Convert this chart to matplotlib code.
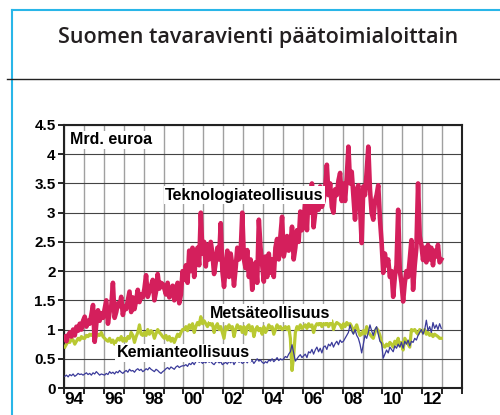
import numpy as np
import matplotlib
matplotlib.use("Agg")
import matplotlib.pyplot as plt
from matplotlib.lines import Line2D

# Kuukausiarvot, mrd. euroa (tammikuu 1994 - joulukuu 2012)
teknologia = [
    0.88, 0.80, 0.90, 0.95, 0.88, 1.00, 0.90, 1.05, 0.98, 1.10, 1.00, 1.15,  # 94
    1.22, 1.05, 1.15, 1.10, 1.25, 1.42, 0.79, 1.10, 1.33, 1.15, 1.28, 1.20,  # 95
    1.35, 1.50, 1.10, 1.30, 1.40, 1.80, 1.20, 1.30, 1.45, 1.40, 1.56, 1.25,  # 96
    1.40, 1.35, 1.50, 1.65, 1.30, 1.55, 1.35, 1.50, 1.68, 1.47, 1.60, 1.55,  # 97
    1.70, 1.93, 1.56, 1.65, 1.75, 1.85, 1.50, 1.65, 1.95, 1.70, 1.80, 1.78,  # 98
    1.70, 1.60, 1.80, 1.55, 1.65, 1.75, 1.50, 1.70, 1.80, 1.45, 1.60, 2.00,  # 99
    1.85, 2.10, 1.80, 2.35, 2.00, 2.40, 1.90, 2.25, 2.40, 2.10, 3.00, 2.30,  # 00
    2.50, 2.08, 2.45, 2.20, 2.50, 2.30, 1.95, 2.15, 2.40, 2.20, 2.82, 2.00,  # 01
    1.73, 2.10, 2.35, 1.90, 2.30, 2.10, 1.75, 2.05, 2.40, 2.20, 2.30, 3.00,  # 02
    2.20, 2.05, 2.36, 1.90, 2.20, 1.68, 1.95, 2.15, 1.80, 2.88, 2.40, 2.10,  # 03
    1.82, 2.25, 1.90, 2.30, 1.97, 2.20, 1.90, 2.40, 2.55, 2.20, 2.60, 2.93,  # 04
    2.25, 2.40, 2.60, 2.35, 2.45, 2.76, 2.20, 2.40, 2.70, 2.50, 3.02, 2.70,  # 05
    2.85, 3.20, 2.70, 3.35, 3.00, 3.50, 2.75, 3.00, 3.30, 3.05, 3.45, 3.10,  # 06
    3.20, 3.40, 3.82, 3.30, 3.50, 3.10, 3.00, 3.40, 3.30, 3.55, 3.68, 3.20,  # 07
    3.50, 3.20, 3.60, 4.13, 3.50, 3.70, 3.30, 2.88, 3.40, 3.47, 3.10, 2.48,  # 08
    3.45, 3.30, 3.70, 4.13, 3.40, 3.00, 2.88, 3.20, 3.30, 3.47, 2.90, 2.50,  # 09
    1.97, 2.30, 2.10, 2.20, 1.90, 2.00, 1.56, 1.90, 2.10, 3.05, 2.00, 1.80,  # 10
    1.48, 1.80, 2.00, 1.90, 2.20, 2.53, 1.68, 2.10, 2.40, 3.50, 2.60, 2.45,  # 11
    2.19, 2.40, 2.15, 2.45, 2.20, 2.40, 2.10, 2.35, 2.25, 2.45, 2.15, 2.20,  # 12
]

metsa = [
    0.70, 0.75, 0.80, 0.78, 0.85, 0.82, 0.75, 0.80, 0.85, 0.82, 0.88, 0.85,
    0.85, 0.90, 0.88, 0.92, 0.90, 0.93, 0.82, 0.88, 0.92, 0.90, 0.95, 0.88,
    0.85, 0.82, 0.80, 0.85, 0.78, 0.82, 0.75, 0.80, 0.85, 0.82, 0.88, 0.80,
    0.85, 0.80, 0.88, 0.85, 0.95, 0.90, 0.78, 0.88, 0.95, 1.08, 0.92, 0.90,
    0.95, 0.90, 1.00, 0.92, 0.98, 0.95, 0.85, 0.93, 1.00, 0.95, 0.92, 0.88,
    0.85, 0.90, 0.82, 0.88, 0.80, 0.85, 0.78, 0.85, 0.92, 0.88, 0.95, 1.00,
    1.00, 1.05, 0.98, 1.08, 1.02, 1.10, 0.95, 1.05, 1.12, 1.08, 1.22, 1.10,
    1.15, 1.10, 1.05, 1.12, 1.08, 1.10, 0.95, 1.05, 1.10, 1.00, 1.05, 0.95,
    0.85, 1.05, 1.00, 1.08, 1.02, 1.05, 0.88, 1.00, 1.08, 1.02, 1.05, 0.95,
    1.05, 0.92, 1.05, 1.08, 0.98, 1.05, 0.88, 1.00, 1.05, 0.98, 1.02, 0.92,
    1.05, 0.95, 1.00, 1.08, 1.02, 1.05, 0.92, 1.00, 1.08, 1.02, 1.05, 1.00,
    1.02, 1.05, 1.00, 1.05, 0.85, 0.30, 0.55, 0.95, 1.05, 1.00, 1.08, 1.02,
    1.05, 1.08, 1.02, 1.10, 1.05, 1.08, 0.95, 1.05, 1.10, 1.08, 1.12, 1.05,
    1.10, 1.08, 1.12, 1.05, 1.10, 1.15, 1.00, 1.08, 1.12, 1.10, 1.08, 1.02,
    1.10, 1.05, 1.12, 1.08, 1.10, 1.05, 0.95, 1.02, 1.08, 0.98, 0.90, 0.92,
    0.98, 0.92, 1.05, 0.95, 0.92, 0.88, 0.85, 0.95, 1.02, 0.98, 0.90, 0.78,
    0.72, 0.70, 0.75, 0.72, 0.78, 0.75, 0.70, 0.80, 0.75, 0.85, 0.72, 0.78,
    0.65, 0.85, 0.80, 0.75, 0.70, 1.00, 0.98, 1.00, 0.95, 0.92, 1.00, 0.98,
    0.95, 1.00, 0.92, 0.95, 0.90, 0.93, 0.88, 0.92, 0.90, 0.88, 0.85, 0.85,
]

kemia = [
    0.20, 0.22, 0.19, 0.23, 0.21, 0.24, 0.20, 0.22, 0.25, 0.23, 0.24, 0.22,
    0.24, 0.26, 0.23, 0.25, 0.22, 0.26, 0.24, 0.28, 0.25, 0.22, 0.24, 0.23,
    0.22, 0.25, 0.23, 0.28, 0.25, 0.27, 0.24, 0.28, 0.26, 0.30, 0.27, 0.25,
    0.28, 0.30, 0.27, 0.32, 0.29, 0.30, 0.27, 0.31, 0.33, 0.30, 0.32, 0.28,
    0.30, 0.33, 0.31, 0.35, 0.32, 0.30, 0.28, 0.32, 0.30, 0.27, 0.25, 0.28,
    0.30, 0.33, 0.35, 0.32, 0.36, 0.34, 0.32, 0.36, 0.38, 0.35, 0.37, 0.38,
    0.38, 0.40, 0.37, 0.42, 0.40, 0.44, 0.40, 0.45, 0.47, 0.44, 0.46, 0.42,
    0.45, 0.43, 0.47, 0.44, 0.46, 0.42, 0.40, 0.44, 0.46, 0.43, 0.45, 0.40,
    0.42, 0.44, 0.41, 0.46, 0.43, 0.47, 0.40, 0.45, 0.48, 0.44, 0.46, 0.42,
    0.44, 0.47, 0.43, 0.48, 0.45, 0.47, 0.42, 0.46, 0.50, 0.46, 0.48, 0.44,
    0.42, 0.45, 0.43, 0.48, 0.46, 0.50, 0.45, 0.48, 0.52, 0.47, 0.50, 0.48,
    0.50, 0.54, 0.52, 0.58, 0.62, 0.74, 0.60, 0.46, 0.50, 0.54, 0.57, 0.52,
    0.55, 0.58, 0.52, 0.62, 0.60, 0.66, 0.58, 0.65, 0.70, 0.62, 0.68, 0.60,
    0.70, 0.72, 0.66, 0.75, 0.72, 0.78, 0.70, 0.76, 0.80, 0.74, 0.82, 0.78,
    0.80, 0.85, 0.90, 0.95, 1.08, 0.98, 0.92, 1.00, 0.90, 0.85, 0.75, 0.60,
    0.75, 0.90, 0.85, 0.95, 1.08, 0.98, 0.90, 1.00, 1.05, 0.92, 0.80, 0.77,
    0.51, 0.58, 0.65, 0.60, 0.70, 0.66, 0.62, 0.72, 0.68, 0.75, 0.70, 0.78,
    0.68, 0.80, 0.75, 0.82, 0.72, 0.80, 0.78, 0.85, 0.82, 0.90, 0.95, 1.00,
    0.92, 1.00, 1.16, 0.98, 1.05, 0.95, 1.12, 1.02, 1.08, 1.00, 1.10, 1.02,
]

vuodet = list(range(1994, 2015))
vuosi_nimet = ['94', '96', '98', '00', '02', '04', '06', '08', '10', '12']
y_tikit = [0, 0.5, 1, 1.5, 2, 2.5, 3, 3.5, 4, 4.5]
y_nimet = ['0', '0.5', '1', '1.5', '2', '2.5', '3', '3.5', '4', '4.5']

aika = 1994 + (np.arange(len(teknologia)) + 0.5) / 12

fig = plt.figure(figsize=(5, 4.15), dpi=100)
fig.patch.set_facecolor('white')

# kehykset ja otsikko
fig.add_artist(Line2D([12/500, 12/500], [0, 1 - 10/415], color='#29b6e8', lw=1.5))
fig.add_artist(Line2D([12/500, 1], [1 - 10/415, 1 - 10/415], color='#29b6e8', lw=1.5))
fig.add_artist(Line2D([7/500, 1], [1 - 79/415, 1 - 79/415], color='#222222', lw=1.0))
fig.text(258/500, 1 - 37/415, 'Suomen tavaravienti päätoimialoittain',
         ha='center', va='center', fontsize=15.5, color='#231f20',
         family='Open Sans', fontweight='semibold')

ax = fig.add_axes([64/500, 1 - 388/415, 398/500, 263/415])
ax.plot(aika, metsa, color='#b9c932', lw=2.3, zorder=3)
ax.plot(aika, kemia, color='#3a3a9a', lw=0.9, zorder=4)
ax.plot(aika, teknologia, color='#d41f5c', lw=3.3, zorder=5)

ax.set_xlim(1994, 2014)
ax.set_ylim(0, 4.5)
ax.set_xticks(vuodet)
ax.set_xticklabels([])
ax.set_xticks([int('19' + v) + 0.5 if int(v) > 50 else int('20' + v) + 0.5
               for v in vuosi_nimet], minor=True)
ax.set_xticklabels(vuosi_nimet, minor=True, fontsize=12.5, fontweight='bold',
                   family='Liberation Sans')
ax.tick_params(axis='x', which='minor', length=0, pad=3)
ax.tick_params(axis='x', which='major', length=4, width=1.2, direction='out')
ax.set_yticks(y_tikit)
ax.set_yticklabels(y_nimet, fontsize=11, fontweight='bold', family='Liberation Sans')
ax.tick_params(axis='y', length=4, width=1.2, direction='out', pad=2)

ax.grid(axis='x', which='major', color='#a0a0a0', lw=1.0, zorder=0)
ax.grid(axis='y', color='#444444', lw=0.8, zorder=0)
for s in ax.spines.values():
    s.set_linewidth(1.5)
    s.set_color('#222222')

laatikko = dict(facecolor='white', edgecolor='none', pad=1.0)
teksti = dict(fontsize=11.5, fontweight='bold', family='Liberation Sans',
              va='center', ha='left', bbox=laatikko, zorder=6)
ax.text(1994.3, 4.25, 'Mrd. euroa', **teksti)
ax.text(1999.08, 3.3, 'Teknologiateollisuus', **teksti)
ax.text(2001.34, 1.28, 'Metsäteollisuus', **teksti)
ax.text(1996.66, 0.6, 'Kemianteollisuus', **teksti)

fig.savefig('out.png', dpi=100)
